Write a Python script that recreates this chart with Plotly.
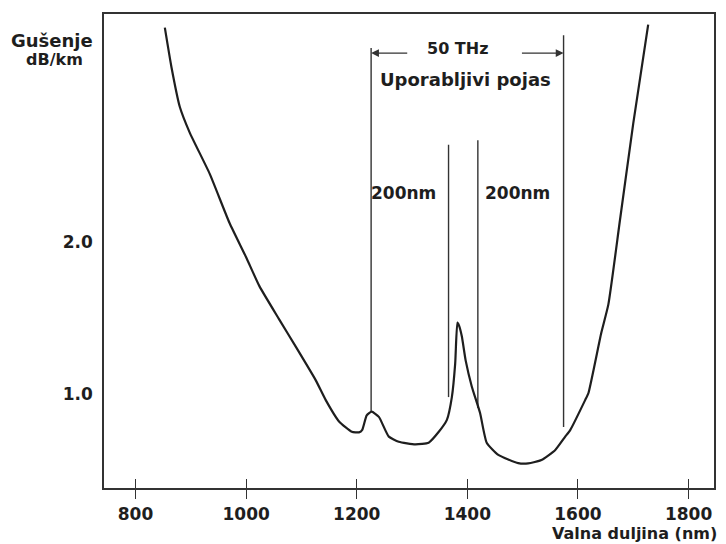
import plotly.graph_objects as go

# Attenuation curve (nm, dB/km)
wavelength_nm = [853, 865, 880, 898, 934, 970, 1000, 1024, 1060, 1090, 1126, 1144,
                 1168, 1191, 1204, 1210, 1218, 1227, 1240, 1258, 1276, 1306, 1330, 1348,
                 1363, 1372, 1378, 1382, 1385, 1390, 1397, 1408, 1423, 1435, 1456, 1492,
                 1510, 1534, 1559, 1577, 1586, 1613, 1619, 1642, 1655, 1676, 1700, 1727]
attenuation = [3.41, 3.15, 2.89, 2.72, 2.45, 2.125, 1.90, 1.71, 1.49, 1.31, 1.09, 0.96,
               0.82, 0.752, 0.748, 0.765, 0.86, 0.884, 0.85, 0.72, 0.686, 0.669, 0.68, 0.75,
               0.83, 0.98, 1.20, 1.47, 1.45, 1.38, 1.22, 1.05, 0.875, 0.68, 0.60, 0.546,
               0.544, 0.566, 0.632, 0.72, 0.763, 0.96, 1.007, 1.40, 1.59, 2.145, 2.78, 3.43]

# Band marker lines (nm, bottom, top)
band_nm = [1226, 1366, 1419, 1574]
band_bottom = [0.884, 0.98, 0.908, 0.783]
band_top = [3.276, 2.64, 2.67, 3.36]

x_ticks = [800, 1000, 1200, 1400, 1600, 1800]
y_ticks = [1.0, 2.0]
y_tick_text = ["1.0", "2.0"]

x_range = [743, 1846]
y_range = [0.382, 3.5]

# Annotation anchor values (data units)
arrow_y = 3.243
arrow_left = [1294, 1226]   # tail, head
arrow_right = [1496, 1574]  # tail, head
thz_pos = [1382, 3.276]
band_label_pos = [1397, 3.072]
nm_label_left = [1284, 2.322]
nm_label_right = [1491, 2.322]

FONT = "DejaVu Sans"
INK = "#1e1e1e"

fig = go.Figure()

vx, vy = [], []
for n, b, t in zip(band_nm, band_bottom, band_top):
    vx += [n, n, None]
    vy += [b, t, None]
fig.add_trace(go.Scatter(x=vx, y=vy, mode="lines",
                         line=dict(color="#333333", width=1.4),
                         hoverinfo="skip", showlegend=False))

fig.add_trace(go.Scatter(x=wavelength_nm, y=attenuation, mode="lines",
                         line=dict(color=INK, width=2.2, shape="spline", smoothing=0.5),
                         showlegend=False))

# invisible trace on overlay axis so it renders
fig.add_trace(go.Scatter(x=x_range, y=y_range, xaxis="x2", mode="markers",
                         marker=dict(opacity=0), hoverinfo="skip", showlegend=False))

fig.update_layout(
    width=726, height=544,
    margin=dict(l=104, r=10, t=14, b=56),
    paper_bgcolor="white", plot_bgcolor="white",
    font=dict(family=FONT, size=17, color=INK, weight="bold"),
    xaxis=dict(range=x_range, tickvals=x_ticks, ticks="outside", ticklen=9,
               tickwidth=1.4, tickcolor="#333333",
               showline=True, linecolor="#333333", linewidth=1.6, mirror=True,
               showgrid=False, zeroline=False,
               tickfont=dict(family=FONT, size=17, color=INK, weight="bold"),
               ticklabelstandoff=1),
    xaxis2=dict(range=x_range, tickvals=x_ticks, ticks="inside", ticklen=9,
                tickwidth=1.4, tickcolor="#333333", overlaying="x", side="bottom",
                showticklabels=False, showline=False, showgrid=False, zeroline=False),
    yaxis=dict(range=y_range, tickvals=y_ticks, ticktext=y_tick_text, ticks="",
               showline=True, linecolor="#333333", linewidth=1.6, mirror=True,
               showgrid=False, zeroline=False,
               tickfont=dict(family=FONT, size=17, color=INK, weight="bold"),
               ticklabelstandoff=6),
)

ann = []
ann.append(dict(x=arrow_left[1], y=arrow_y, ax=arrow_left[0], ay=arrow_y,
                xref="x", yref="y", axref="x", ayref="y", text="", showarrow=True,
                arrowhead=2, arrowsize=1.2, arrowwidth=1.3, arrowcolor="#333333"))
ann.append(dict(x=arrow_right[1], y=arrow_y, ax=arrow_right[0], ay=arrow_y,
                xref="x", yref="y", axref="x", ayref="y", text="", showarrow=True,
                arrowhead=2, arrowsize=1.2, arrowwidth=1.3, arrowcolor="#333333"))
ann.append(dict(x=thz_pos[0], y=thz_pos[1], xref="x", yref="y", text="50 THz",
                showarrow=False, font=dict(size=16)))
ann.append(dict(x=band_label_pos[0], y=band_label_pos[1], xref="x", yref="y",
                text="Uporabljivi pojas", showarrow=False, font=dict(size=18)))
ann.append(dict(x=nm_label_left[0], y=nm_label_left[1], xref="x", yref="y",
                text="200nm", showarrow=False, font=dict(size=17)))
ann.append(dict(x=nm_label_right[0], y=nm_label_right[1], xref="x", yref="y",
                text="200nm", showarrow=False, font=dict(size=17)))
ann.append(dict(x=-0.085, y=0.945, xref="paper", yref="paper", text="Gušenje",
                xanchor="center", yanchor="middle", showarrow=False, font=dict(size=18)))
ann.append(dict(x=-0.081, y=0.905, xref="paper", yref="paper", text="dB/km",
                xanchor="center", yanchor="middle", showarrow=False, font=dict(size=16)))
ann.append(dict(x=1.008, y=-0.097, xref="paper", yref="paper", text="Valna duljina (nm)",
                xanchor="right", yanchor="middle", showarrow=False, font=dict(size=16)))
fig.update_layout(annotations=ann)

fig.write_html("out.html", config={"displayModeBar": False},
               post_script="document.body.style.margin='0px';")
